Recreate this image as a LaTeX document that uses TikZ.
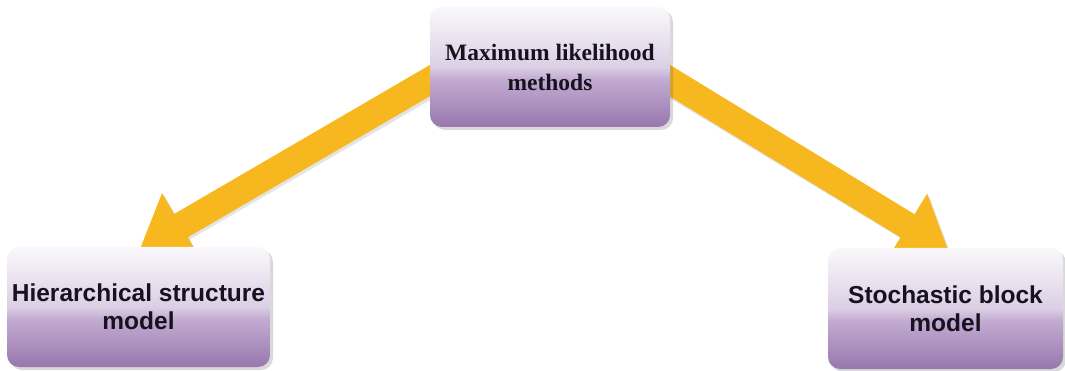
\documentclass[tikz,border=0pt]{standalone}
\usepackage{fontspec}
\setmainfont{Liberation Serif}
\newfontfamily\boxsans{Liberation Sans}
\usetikzlibrary{arrows.meta,shadows,calc}
\pgfdeclarelayer{bg}
\pgfsetlayers{bg,main}
\definecolor{pb}{HTML}{9877AE}
\definecolor{pm2}{HTML}{C2ABD1}
\definecolor{pm1}{HTML}{DCCFE5}
\definecolor{pt2}{HTML}{EEE8F2}
\definecolor{pt}{HTML}{FAF8FB}
\definecolor{arrowc}{HTML}{F7B71E}
\definecolor{txt}{HTML}{16121E}
\pgfdeclareverticalshading{boxshade}{100bp}{color(0bp)=(pb); color(25bp)=(pb); color(45bp)=(pm2); color(50bp)=(pm1); color(65bp)=(pt2); color(75bp)=(pt); color(100bp)=(pt)}
\begin{document}
\begin{tikzpicture}[x=1pt,y=-1pt,
  gbox/.style={rounded corners=12pt, shading=boxshade, align=center, text=txt,
    drop shadow={shadow xshift=3pt, shadow yshift=-3pt, opacity=0.25, fill=black!60},
    inner sep=0pt},
  serifbox/.style={gbox, font=\bfseries\fontsize{23.5}{30}\selectfont},
  sansbox/.style={gbox, font=\boxsans\bfseries\fontsize{24.5}{28}\selectfont},
  bigarrow/.style={line width=27pt, color=arrowc, -{Triangle[width=72pt,length=48pt]}},
  arrowshadow/.style={line width=27pt, color=gray!60, opacity=0.35, -{Triangle[width=72pt,length=48pt]}}]
\useasboundingbox (0,0) rectangle (1065,371);
\node[serifbox, minimum width=240pt, minimum height=120pt] (top) at (550,67)
  {Maximum likelihood\\ methods};
\node[sansbox, minimum width=263pt, minimum height=120pt] (left) at (138.5,307)
  {Hierarchical structure\\ model};
\node[sansbox, minimum width=235pt, minimum height=121pt] (right) at (945.5,308.5)
  {Stochastic block\\ model};
\begin{pgfonlayer}{bg}
\draw[arrowshadow] ([shift={(10,12)}]top.west) -- ([shift={(3,5)}]left.north);
\draw[arrowshadow] ([shift={(-6,12)}]top.east) -- ([shift={(5,5)}]right.north);
\draw[bigarrow] ([shift={(8,9)}]top.west) -- ([shift={(1,3)}]left.north);
\draw[bigarrow] ([shift={(-8,9)}]top.east) -- ([shift={(3,3)}]right.north);
\end{pgfonlayer}
\end{tikzpicture}
\end{document}
